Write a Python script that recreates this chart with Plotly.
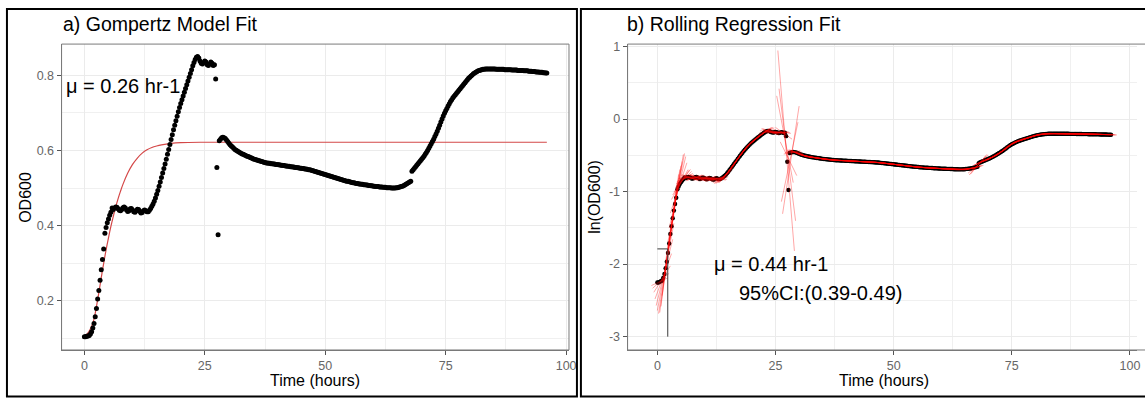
import numpy as np
import plotly.graph_objects as go

# ---------------- data ----------------
time_step = 0.25
time_h = np.arange(0, 96 + 1e-9, time_step)

od600 = [
    .105, .105, .106, .107,  .108, .112, .118, .128,  .140, .158, .180, .205,  .228, .255, .283, .310,
    .338, .380, .395, .408,  .418, .428, .436, .447,  .443, .447, .450, .449,  .445, .441, .440, .443,
    .448, .450, .447, .442,  .438, .440, .445, .446,  .442, .437, .436, .440,  .444, .443, .438, .434,
    .435, .440, .442, .440,  .437, .437, .441, .446,  .452, .458, .465, .474,  .484, .494, .505, .516,
    .528, .540, .552, .564,  .577, .590, .603, .616,  .629, .642, .655, .667,  .679, .691, .703, .714,
    .725, .735, .745, .755,  .765, .775, .785, .795,  .805, .815, .825, .834,  .842, .848, .850, .846,
    .838, .832, .830, .834,  .838, .835, .828, .826,  .830, .835, .832, .826,  .828, .790, .555, .376,
    .626, .630, .634, .635,  .634, .632, .628, .624,  .619, .615, .612, .609,  .606, .603, .601, .599,
    .597, .595, .593, .591,  .590, .588, .587, .585,  .584, .583, .581, .580,  .578, .577, .576, .575,
    .574, .573, .572, .571,  .570, .569, .568, .567,  .567, .566, .566, .565,  .565, .564, .564, .563,
    .563, .562, .562, .561,  .561, .560, .560, .559,  .559, .558, .558, .557,  .557, .556, .556, .555,
    .555, .554, .554, .553,  .553, .552, .552, .551,  .551, .550, .549, .549,  .548, .547, .546, .545,
    .544, .543, .542, .541,  .540, .539, .538, .537,  .536, .535, .534, .533,  .532, .531, .530, .529,
    .528, .527, .526, .525,  .524, .523, .522, .521,  .520, .519, .518, .518,  .517, .516, .515, .514,
    .514, .513, .512, .512,  .511, .511, .510, .510,  .509, .509, .508, .508,  .507, .507, .506, .506,
    .505, .505, .504, .504,  .504, .503, .503, .503,  .502, .502, .502, .501,  .501, .501, .501, .500,
    .500, .500, .500, .501,  .501, .502, .503, .504,  .505, .506, .508, .510,  .512, .514, .516, .518,
    .545, .549, .553, .557,  .561, .565, .569, .573,  .577, .581, .585, .590,  .595, .600, .606, .612,
    .618, .624, .630, .637,  .644, .651, .659, .667,  .676, .684, .692, .699,  .706, .712, .718, .724,
    .730, .735, .740, .744,  .748, .752, .756, .760,  .764, .768, .772, .776,  .780, .784, .788, .792,
    .795, .798, .801, .804,  .806, .808, .810, .812,  .813, .814, .815, .816,  .816, .817, .817, .817,
    .817, .817, .817, .817,  .817, .817, .816, .816,  .816, .816, .816, .816,  .816, .815, .815, .815,
    .815, .815, .815, .814,  .814, .814, .814, .814,  .813, .813, .813, .813,  .813, .812, .812, .812,
    .812, .811, .811, .811,  .810, .810, .810, .809,  .809, .809, .808, .808,  .808, .807, .807, .806,
    .806,
]

gompertz_t = [0, 0.5, 1, 1.5, 2, 2.5, 3, 3.5, 4, 4.5, 5, 5.5, 6, 6.5, 7, 7.5, 8, 9, 10, 11, 12,
              13, 14, 15, 16, 18, 20, 25, 40, 96]
gompertz_od = [.108, .112, .120, .133, .152, .185, .222, .262, .300, .336, .368, .398, .425, .450,
               .472, .492, .510, .540, .563, .580, .593, .602, .608, .612, .615, .619, .621, .622,
               .622, .622]

# lag marker in panel b
lag_t = 2.2
lag_ln = -1.79
lag_floor = -3.0

roll_half_window = 2       # points on each side of the centre used in each rolling fit
roll_line_half_span = 1.75  # hours drawn each side of the centre

x_ticks = [0, 25, 50, 75, 100]
x_minor = [12.5, 37.5, 62.5, 87.5]
ya_ticks = [0.2, 0.4, 0.6, 0.8]
ya_minor = [0.1, 0.3, 0.5, 0.7]
yb_ticks = [-3, -2, -1, 0, 1]
yb_ticklabels = ["-3", "-2", "-1", "0", "1"]
yb_minor = [-2.5, -1.5, -0.5, 0.5]

title_a = "a) Gompertz Model Fit"
title_b = "b) Rolling Regression Fit"
mu_a_text = "μ = 0.26 hr-1"
mu_b_text = "μ = 0.44 hr-1"
ci_b_text = "95%CI:(0.39-0.49)"

# ---------------- derived ----------------
od = np.array(od600)
ln_od = np.log(od)

seg_x, seg_y = [], []
n = len(time_h)
for i in range(roll_half_window, n - roll_half_window):
    tt = time_h[i - roll_half_window:i + roll_half_window + 1]
    yy = ln_od[i - roll_half_window:i + roll_half_window + 1]
    slope, icpt = np.polyfit(tt, yy, 1)
    x0 = time_h[i] - roll_line_half_span
    x1 = time_h[i] + roll_line_half_span
    seg_x += [x0, x1, None]
    seg_y += [slope * x0 + icpt, slope * x1 + icpt, None]

# ---------------- figure ----------------
W, H = 1145, 398
FONT = "Liberation Sans, Arial, Helvetica, sans-serif"

fig = go.Figure()

# Panel a
fig.add_trace(go.Scatter(x=gompertz_t, y=gompertz_od, mode="lines",
                         line=dict(color="rgb(212,72,72)", width=1.2, shape="spline"),
                         xaxis="x", yaxis="y", showlegend=False))
fig.add_trace(go.Scatter(x=time_h, y=od, mode="markers", marker=dict(color="black", size=5),
                         xaxis="x", yaxis="y", showlegend=False))

# Panel b
fig.add_trace(go.Scatter(x=time_h, y=ln_od, mode="markers", marker=dict(color="black", size=4.4),
                         xaxis="x2", yaxis="y2", showlegend=False))
fig.add_trace(go.Scatter(x=seg_x, y=seg_y, mode="lines", line=dict(color="rgba(255,0,0,0.35)", width=1),
                         xaxis="x2", yaxis="y2", showlegend=False, connectgaps=False))
fig.add_trace(go.Scatter(x=[0, lag_t, lag_t], y=[lag_ln, lag_ln, lag_floor], mode="lines",
                         line=dict(color="#3a3a3a", width=1), xaxis="x2", yaxis="y2", showlegend=False))

ydom = [1 - 349.5 / H, 1 - 40.5 / H]

axis_common = dict(
    showgrid=True, gridcolor="#EBEBEB", gridwidth=1,
    zeroline=False, showline=True, linecolor="#7a7a7a", linewidth=1, mirror=False,
    ticks="outside", ticklen=4, tickcolor="#555555", tickwidth=1,
    tickfont=dict(family=FONT, size=12.5, color="#666666"),
)

minor_common = dict(tickmode="array", showgrid=True, gridcolor="#F0F0F0", gridwidth=1, ticks="")

fig.update_layout(
    width=W, height=H, margin=dict(l=0, r=0, t=0, b=0),
    paper_bgcolor="white", plot_bgcolor="white",
    font=dict(family=FONT),
    xaxis=dict(domain=[62 / W, 573 / W], range=[-4.74, 100.6], tickmode="array", tickvals=x_ticks,
               minor=dict(tickvals=x_minor, **minor_common), anchor="y", **axis_common),
    yaxis=dict(domain=ydom, range=[0.0697, 0.8829], tickmode="array", tickvals=ya_ticks,
               ticktext=[f"{v:.1f}" for v in ya_ticks],
               minor=dict(tickvals=ya_minor, **minor_common), anchor="x", **axis_common),
    xaxis2=dict(domain=[632 / W, 1.0], range=[-6.3, 101.5], tickmode="array", tickvals=x_ticks,
                minor=dict(tickvals=x_minor, **minor_common), anchor="y2", **axis_common),
    yaxis2=dict(domain=ydom, range=[-3.184, 1.034], tickmode="array", tickvals=yb_ticks,
                ticktext=yb_ticklabels,
                minor=dict(tickvals=yb_minor, **minor_common), anchor="x2", **axis_common),
)

shapes = [
    dict(type="rect", xref="x domain", yref="y domain", x0=0, x1=1, y0=0, y1=1,
         line=dict(color="#7a7a7a", width=1), layer="above"),
    dict(type="rect", xref="x2 domain", yref="y2 domain", x0=0, x1=1.02, y0=0, y1=1,
         line=dict(color="#7a7a7a", width=1), layer="above"),
    dict(type="rect", xref="paper", yref="paper", x0=7 / W, x1=581 / W, y0=1 - 396.5 / H, y1=1 - 5 / H,
         line=dict(color="black", width=2)),
    dict(type="rect", xref="paper", yref="paper", x0=585 / W, x1=1.01, y0=1 - 396.5 / H, y1=1 - 5 / H,
         line=dict(color="black", width=2)),
]
fig.update_layout(shapes=shapes)

ann = [
    dict(text=title_a, xref="paper", yref="paper", x=61 / W, y=1 - 20 / H, xanchor="left", yanchor="middle",
         showarrow=False, font=dict(family=FONT, size=19.5, color="black")),
    dict(text=title_b, xref="paper", yref="paper", x=629 / W, y=1 - 20 / H, xanchor="left", yanchor="middle",
         showarrow=False, font=dict(family=FONT, size=19.5, color="black")),
    dict(text="Time (hours)", xref="paper", yref="paper", x=(62 + 573) / 2 / W, y=1 - 380 / H,
         xanchor="center", yanchor="middle", showarrow=False, font=dict(family=FONT, size=16, color="black")),
    dict(text="Time (hours)", xref="paper", yref="paper", x=890 / W, y=1 - 380 / H,
         xanchor="center", yanchor="middle", showarrow=False, font=dict(family=FONT, size=16, color="black")),
    dict(text="OD600", xref="paper", yref="paper", x=25 / W, y=1 - 195 / H, textangle=-90,
         xanchor="center", yanchor="middle", showarrow=False, font=dict(family=FONT, size=16, color="black")),
    dict(text="ln(OD600)", xref="paper", yref="paper", x=598 / W, y=1 - 195 / H, textangle=-90,
         xanchor="center", yanchor="middle", showarrow=False, font=dict(family=FONT, size=16, color="black")),
    dict(text=mu_a_text, xref="x", yref="y", x=8.0, y=0.772, xanchor="center", yanchor="middle",
         showarrow=False, font=dict(family=FONT, size=20, color="black")),
    dict(text=mu_b_text, xref="x2", yref="y2", x=24.05, y=-2.0, xanchor="center", yanchor="middle",
         showarrow=False, font=dict(family=FONT, size=20, color="black")),
    dict(text=ci_b_text, xref="x2", yref="y2", x=34.6, y=-2.40, xanchor="center", yanchor="middle",
         showarrow=False, font=dict(family=FONT, size=20, color="black")),
]
fig.update_layout(annotations=ann)

fig.write_html("out.html")
